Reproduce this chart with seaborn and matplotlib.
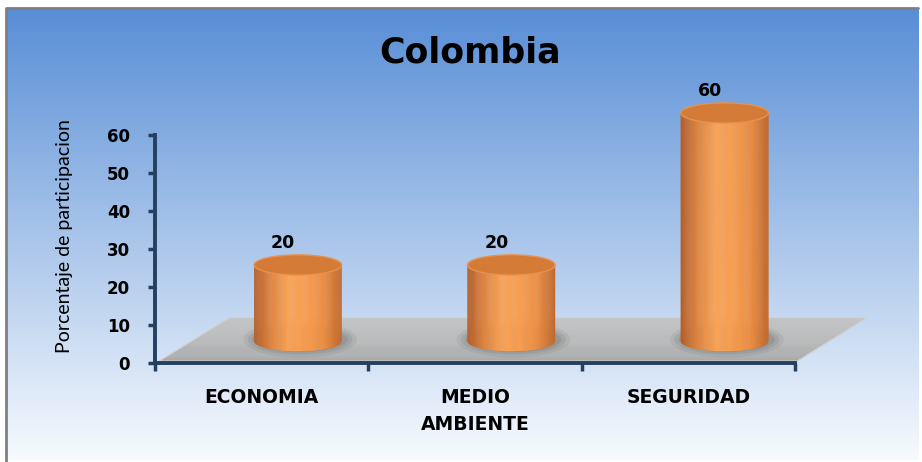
import numpy as np
import pandas as pd
import matplotlib
matplotlib.use("Agg")
import matplotlib.pyplot as plt
import seaborn as sns
from matplotlib.colors import LinearSegmentedColormap
from matplotlib.patches import Polygon, Ellipse, Rectangle
from matplotlib.collections import PolyCollection

# ---- data ----
categories = ["ECONOMIA", "MEDIO\nAMBIENTE", "SEGURIDAD"]
values = [20, 20, 60]
yticks = [0, 10, 20, 30, 40, 50, 60]
title = "Colombia"
ylabel = "Porcentaje de participacion"

sns.set_theme(style="white")
plt.rcParams['font.family'] = ['DejaVu Sans']
for k in ["text.color", "axes.labelcolor", "xtick.color", "ytick.color"]:
    plt.rcParams[k] = "black"

W, H = 922, 462
fig = plt.figure(figsize=(W / 100, H / 100), dpi=100)

# background gradient
bg = fig.add_axes([0, 0, 1, 1], zorder=-10)
bg.set_axis_off()
t = np.linspace(0, 1, 256)[:, None]
top = np.array([88, 142, 214]) / 255
bot = np.array([247, 250, 254]) / 255
grad = top[None, None, :] * (1 - t[..., None]) + bot[None, None, :] * t[..., None]
grad = np.repeat(grad, 2, axis=1)
bg.imshow(grad, aspect="auto", extent=[6, 918, 460, 8], zorder=0)
bg.set_xlim(0, W)
bg.set_ylim(H, 0)
bg.add_patch(Rectangle((0, 0), W, 7, facecolor="white", edgecolor="none", zorder=1))
bg.add_patch(Rectangle((0, 0), 6, H, facecolor="white", edgecolor="none", zorder=1))
bg.plot([6, 6, 918], [H, 8, 8], color="#7F7F7F", lw=2, zorder=2)

# main axes
ax_l, ax_r, ax_t, ax_b = 155, 795, 135, 363
ax = fig.add_axes([ax_l / W, (H - ax_b) / H, (ax_r - ax_l) / W, (ax_b - ax_t) / H])
ax.patch.set_alpha(0)

df = pd.DataFrame({"cat": categories, "val": values})
sns.barplot(data=df, x="cat", y="val", ax=ax, width=0.41, color="#F79646")

ax.set_xlim(-0.5, 2.5)
ax.set_ylim(0, 60)

navy = "#243F60"
for s in ["top", "right"]:
    ax.spines[s].set_visible(False)
for s in ["left", "bottom"]:
    ax.spines[s].set_color(navy)
    ax.spines[s].set_linewidth(2.8)
    ax.spines[s].set_zorder(5)

ax.set_yticks(yticks)
ax.set_yticklabels([str(v) for v in yticks], fontsize=12, fontweight="bold")
ax.tick_params(axis="y", direction="out", length=5, width=2.5, color=navy,
               labelcolor="black", pad=13, left=True)
ax.set_xticks(range(len(categories)))
ax.set_xticklabels(categories, fontsize=13.5, fontweight="bold", linespacing=1.55)
ax.tick_params(axis="x", length=0, pad=18, labelcolor="black")
ax.set_xticks([-0.5, 0.5, 1.5, 2.5], minor=True)
ax.tick_params(axis="x", which="minor", direction="out", length=6, width=2.5, color=navy, bottom=True)
ax.set_xlabel("")
ax.set_ylabel(ylabel, fontsize=14, family=["Lato", "DejaVu Sans"])
ax.yaxis.set_label_coords(-0.128, 0.557)
ax.set_title(title, fontsize=25, fontweight="bold", pad=52, x=0.492)

# floor (3D base) as horizontal gradient strips
fl_front_l, fl_front_r = (-0.48, 0.5), (2.51, 0.5)
fl_back_l, fl_back_r = (-0.15, 12.0), (2.84, 12.0)
nf = 40
floor_cmap = LinearSegmentedColormap.from_list("fl", ["#A9A9A9", "#BBBBBB", "#C4C4C4"])
fpolys = []
for i in range(nf):
    f0, f1 = i / nf, (i + 1) / nf
    def lerp(a, b, f):
        return (a[0] + (b[0] - a[0]) * f, a[1] + (b[1] - a[1]) * f)
    fpolys.append([lerp(fl_front_l, fl_back_l, f0), lerp(fl_front_r, fl_back_r, f0),
                   lerp(fl_front_r, fl_back_r, f1), lerp(fl_front_l, fl_back_l, f1)])
fcols = floor_cmap(np.linspace(0, 1, nf))
ax.add_collection(PolyCollection(fpolys, facecolors=fcols, edgecolors=fcols,
                                 linewidths=0.3, zorder=1, clip_on=False))
ax.add_patch(Polygon([fl_front_l, fl_front_r, fl_back_r, fl_back_l], closed=True,
                     facecolor="none", edgecolor="#D2D2D2", lw=0.8, zorder=1.2, clip_on=False))

# cylinders
body_cmap = LinearSegmentedColormap.from_list(
    "cyl", ["#B5602A", "#E28640", "#FAA456", "#F99D4E", "#EE8E42", "#C26A2C"])
dx = 0.17
base = 5.8
eh = 5.3
ns = 80
for p, v in zip(ax.patches[:len(values)], values):
    x0 = p.get_x() + dx
    w = p.get_width()
    hgt = p.get_height()
    p.set_visible(False)
    cx = x0 + w / 2
    y0, y1 = base, base + hgt
    # soft shadow
    for sx, sy, a in [(1.30, 1.8, 0.10), (1.20, 1.5, 0.14), (1.10, 1.25, 0.18)]:
        ax.add_patch(Ellipse((cx + 0.01, y0 + 0.4), w * sx, eh * sy, facecolor="#5A5A5A",
                             alpha=a, edgecolor="none", zorder=1.5, clip_on=False))
    # body as vertical strips
    xe = np.linspace(x0, x0 + w, ns + 1)
    polys = []
    for a_, b_ in zip(xe[:-1], xe[1:]):
        ya = y0 - (eh / 2) * np.sqrt(max(0.0, 1 - ((a_ - cx) / (w / 2)) ** 2))
        yb = y0 - (eh / 2) * np.sqrt(max(0.0, 1 - ((b_ - cx) / (w / 2)) ** 2))
        polys.append([(a_, ya), (b_, yb), (b_, y1), (a_, y1)])
    cols = body_cmap(np.linspace(0, 1, ns))
    ax.add_collection(PolyCollection(polys, facecolors=cols, edgecolors=cols, linewidths=0.3,
                                     zorder=2, clip_on=False))
    ax.add_patch(Ellipse((cx, y1), w, eh, facecolor="#D47B38", edgecolor="#E8914C",
                         lw=1.0, zorder=3, clip_on=False))
    ax.text(p.get_x() + w / 2 + 0.10, v + 11.5, str(v), ha="center", va="center",
            fontsize=12.5, fontweight="bold", zorder=4, clip_on=False)

ax.set_xlim(-0.5, 2.5)
ax.set_ylim(0, 60)
fig.savefig("out.png", dpi=100)
